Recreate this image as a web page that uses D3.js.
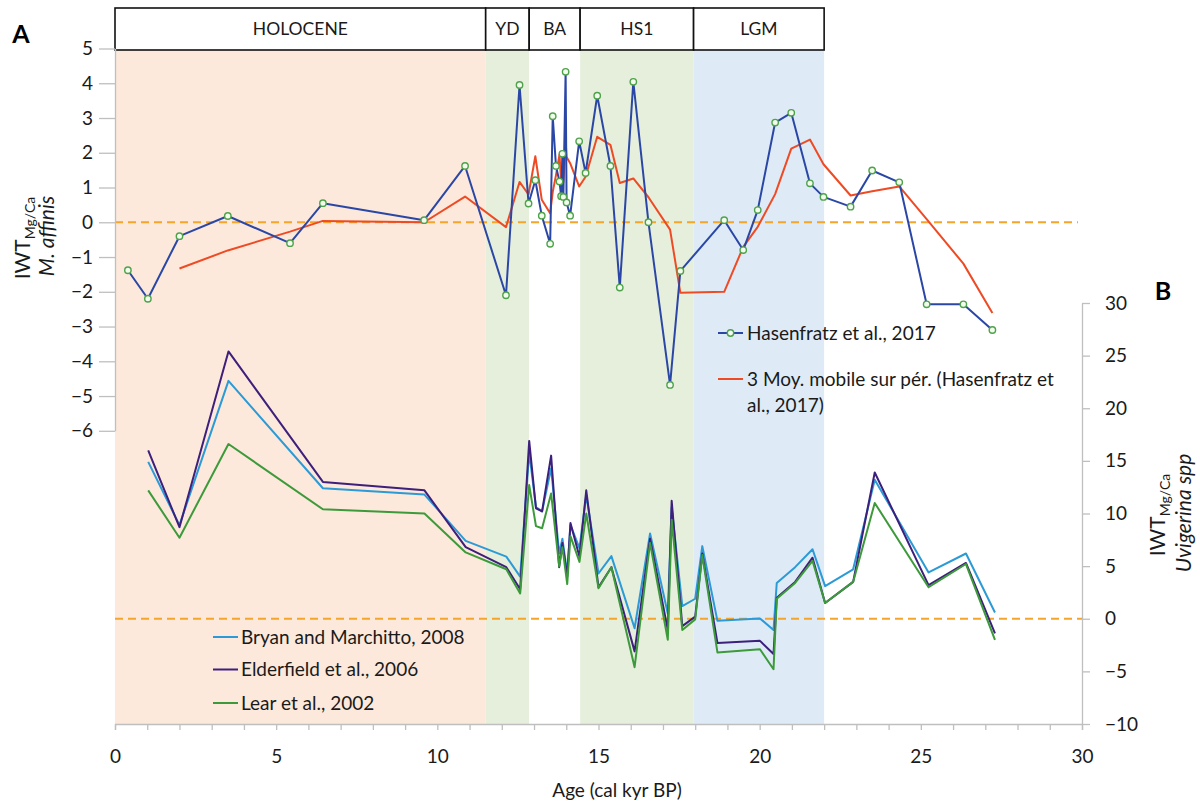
<!DOCTYPE html>
<html>
<head>
<meta charset="utf-8">
<script src="https://cdn.jsdelivr.net/npm/d3@7"></script>
<style>
  html, body { margin: 0; padding: 0; background: #fff; }
  svg { display: block; font-family: Lato, "Open Sans", sans-serif; }
</style>
</head>
<body>
<svg id="chart" width="1200" height="805"></svg>
<script>
// ---------- DATA ----------
const periodNames  = ["HOLOCENE", "YD", "BA", "HS1", "LGM"];
const periodStarts = [0, 11.5, 12.85, 14.43, 17.95];
const periodEnds   = [11.5, 12.85, 14.43, 17.95, 22.0];
const periodFills  = ["#fce9db", "#e6efdc", "#ffffff", "#e6efdc", "#deebf7"];

// Hasenfratz et al., 2017 (left axis)
const hasAges = [0.4, 1.02, 2.0, 3.5, 5.43, 6.45, 9.59, 10.86, 12.13, 12.55, 12.83, 13.04, 13.24, 13.5, 13.58, 13.68, 13.79, 13.84, 13.88, 13.91, 13.98, 14.01, 14.12, 14.4, 14.6, 14.96, 15.37, 15.66, 16.08, 16.55, 17.22, 17.54, 18.9, 19.49, 19.94, 20.48, 20.98, 21.56, 21.98, 22.82, 23.49, 24.33, 25.18, 26.32, 27.22];
const hasValues = [-1.38, -2.2, -0.4, 0.18, -0.6, 0.55, 0.06, 1.62, -2.1, 3.95, 0.54, 1.21, 0.19, -0.62, 3.05, 1.62, 1.17, 0.75, 1.97, 0.73, 4.33, 0.57, 0.19, 2.33, 1.42, 3.64, 1.62, -1.88, 4.04, 0.0, -4.68, -1.4, 0.06, -0.8, 0.35, 2.87, 3.15, 1.12, 0.73, 0.45, 1.49, 1.15, -2.36, -2.36, -3.1];

// 3-point moving average line (left axis)
const maAges = [2.0, 3.5, 5.43, 6.45, 9.59, 10.86, 12.13, 12.55, 12.83, 13.04, 13.24, 13.5, 13.58, 13.68, 13.79, 13.84, 13.88, 13.91, 13.98, 14.01, 14.12, 14.4, 14.6, 14.96, 15.37, 15.66, 16.08, 16.55, 17.22, 17.54, 18.9, 19.49, 19.94, 20.48, 20.98, 21.56, 21.98, 22.82, 23.49, 24.33, 25.18, 26.32, 27.22];
const maValues = [-1.33, -0.81, -0.27, 0.04, 0.0, 0.74, -0.14, 1.16, 0.8, 1.9, 0.65, 0.26, 0.87, 1.35, 1.95, 1.18, 1.3, 1.15, 2.34, 1.88, 1.7, 1.03, 1.31, 2.46, 2.23, 1.13, 1.26, 0.72, -0.21, -2.03, -2.0, -0.71, -0.13, 0.81, 2.12, 2.38, 1.67, 0.77, 0.89, 1.03, 0.09, -1.19, -2.61];

// Uvigerina series (right axis)
const uviAges = [1.03, 2.0, 3.52, 6.45, 9.6, 10.88, 12.14, 12.57, 12.85, 13.06, 13.25, 13.53, 13.78, 13.88, 14.03, 14.13, 14.41, 14.62, 15.0, 15.4, 16.12, 16.6, 17.15, 17.27, 17.6, 18.0, 18.22, 18.69, 20.01, 20.43, 20.53, 21.1, 21.64, 22.03, 22.9, 23.57, 25.24, 26.4, 27.3];
const bryan = [14.9, 8.9, 22.6, 12.4, 11.8, 7.4, 5.9, 4.0, 15.8, 10.6, 10.2, 14.3, 6.2, 7.6, 4.3, 8.9, 6.7, 11.75, 4.3, 5.95, -0.9, 8.1, 0.5, 10.6, 1.2, 1.9, 6.9, -0.2, 0.03, -1.07, 3.4, 4.9, 6.6, 3.1, 4.7, 13.2, 4.4, 6.2, 0.6];
const elderfield = [16.0, 8.7, 25.4, 13.0, 12.2, 6.8, 4.9, 2.8, 16.9, 10.5, 10.2, 15.5, 4.9, 7.2, 4.0, 9.1, 5.9, 12.2, 3.0, 4.9, -3.1, 7.6, -1.07, 11.2, -0.7, 0.2, 6.2, -2.3, -2.1, -3.35, 2.0, 3.5, 5.8, 1.5, 3.5, 13.9, 3.2, 5.3, -1.4];
const lear = [12.2, 7.7, 16.6, 10.4, 10.0, 6.3, 4.7, 2.4, 12.7, 8.8, 8.6, 11.9, 5.0, 6.8, 3.3, 7.85, 5.4, 10.0, 2.9, 4.9, -4.6, 7.2, -2.0, 9.4, -1.07, -0.06, 6.05, -3.2, -2.9, -4.8, 1.9, 3.4, 5.5, 1.5, 3.5, 11.0, 3.0, 5.2, -2.0];

const xTicks = [0, 5, 10, 15, 20, 25, 30];
const leftTicks = [5, 4, 3, 2, 1, 0, -1, -2, -3, -4, -5, -6];
const rightTicks = [30, 25, 20, 15, 10, 5, 0, -5, -10];

const legendTop = ["Hasenfratz et al., 2017", "3 Moy. mobile sur pér. (Hasenfratz et", "al., 2017)"];
const legendBottom = ["Bryan and Marchitto, 2008", "Elderfield et al., 2006", "Lear et al., 2002"];

// ---------- STYLE ----------
const C = {
  axis: "#bfbfbf", text: "#1a1a1a",
  has: "#2b47a6", marker: "#4ea34a", ma: "#ee4b25",
  bryan: "#2b9ad6", elder: "#3d1f7c", lear: "#3d9a3a",
  zero: "#f4a52a"
};
const FONT = 19;

const svg = d3.select("#chart");
const X0 = 115, X1 = 1082, YB = 724, YT = 50;

const x = d3.scaleLinear().domain([0, 30]).range([X0, X1]);
const yL = d3.scaleLinear().domain([5, -6]).range([48.5, 430.8]);
const yR = d3.scaleLinear().domain([-10, 30]).range([YB, 303]);

// ---------- background periods ----------
const periods = periodNames.map((n, i) => ({ n, s: periodStarts[i], e: periodEnds[i], f: periodFills[i] }));
svg.append("g").selectAll("rect").data(periods).join("rect")
  .attr("x", d => x(d.s)).attr("y", YT)
  .attr("width", d => x(d.e) - x(d.s)).attr("height", YB - YT)
  .attr("fill", d => d.f);

// period header boxes
const hdr = svg.append("g");
hdr.selectAll("rect").data(periods).join("rect")
  .attr("x", d => x(d.s)).attr("y", 8)
  .attr("width", d => x(d.e) - x(d.s)).attr("height", YT - 8)
  .attr("fill", "#fff").attr("stroke", "#111").attr("stroke-width", 1.6);
hdr.selectAll("text").data(periods).join("text")
  .attr("x", d => (x(d.s) + x(d.e)) / 2).attr("y", 29)
  .attr("dy", "0.36em").attr("text-anchor", "middle")
  .attr("font-size", 17.5).attr("fill", C.text)
  .text(d => d.n);

// ---------- zero dashed lines ----------
svg.append("line").attr("x1", X0).attr("x2", 1078).attr("y1", yL(0)).attr("y2", yL(0))
  .attr("stroke", C.zero).attr("stroke-width", 2).attr("stroke-dasharray", "8,5");
svg.append("line").attr("x1", X0).attr("x2", X1).attr("y1", yR(0)).attr("y2", yR(0))
  .attr("stroke", C.zero).attr("stroke-width", 2).attr("stroke-dasharray", "8,5");

// ---------- axes ----------
function styleAxis(g) {
  g.selectAll("path.domain").attr("stroke", C.axis).attr("stroke-width", 1.3);
  g.selectAll(".tick line").attr("stroke", C.axis).attr("stroke-width", 1.3);
  g.selectAll(".tick text").attr("fill", C.text).attr("font-size", FONT)
    .attr("font-family", "Lato, 'Open Sans', sans-serif");
}
const gx = svg.append("g").attr("transform", `translate(0,${YB})`)
  .call(d3.axisBottom(x).tickValues(d3.range(0, 31, 1)).tickSize(6).tickPadding(20)
    .tickFormat(d => xTicks.includes(d) ? d : ""));
styleAxis(gx);

const gl = svg.append("g").attr("transform", `translate(${X0},0)`)
  .call(d3.axisLeft(yL).tickValues(leftTicks).tickSize(16).tickPadding(6).tickSizeOuter(0));
styleAxis(gl);

const gr = svg.append("g").attr("transform", `translate(${X1},0)`)
  .call(d3.axisRight(yR).tickValues(rightTicks).tickSize(8).tickPadding(15).tickSizeOuter(0));
styleAxis(gr);

// ---------- lines ----------
function drawLine(ages, vals, yScale, color, width) {
  const pts = ages.map((a, i) => [a, vals[i]]);
  svg.append("path").datum(pts)
    .attr("fill", "none").attr("stroke", color).attr("stroke-width", width)
    .attr("stroke-linejoin", "round")
    .attr("d", d3.line().x(d => x(d[0])).y(d => yScale(d[1])));
}
drawLine(uviAges, bryan, yR, C.bryan, 2);
drawLine(uviAges, elderfield, yR, C.elder, 2);
drawLine(uviAges, lear, yR, C.lear, 2);

drawLine(maAges, maValues, yL, C.ma, 2);
drawLine(hasAges, hasValues, yL, C.has, 2);
svg.append("g").selectAll("circle").data(hasAges.map((a, i) => [a, hasValues[i]])).join("circle")
  .attr("cx", d => x(d[0])).attr("cy", d => yL(d[1])).attr("r", 3.2)
  .attr("fill", "#f3faee").attr("stroke", C.marker).attr("stroke-width", 1.4);

// ---------- legends ----------
const lt = svg.append("g");
lt.append("line").attr("x1", 718).attr("x2", 743).attr("y1", 333).attr("y2", 333)
  .attr("stroke", C.has).attr("stroke-width", 2);
lt.append("circle").attr("cx", 730.5).attr("cy", 333).attr("r", 3.2)
  .attr("fill", "#f3faee").attr("stroke", C.marker).attr("stroke-width", 1.4);
lt.append("text").attr("x", 747).attr("y", 333).attr("dy", "0.35em")
  .attr("font-size", FONT).attr("fill", C.text).text(legendTop[0]);
lt.append("line").attr("x1", 718).attr("x2", 743).attr("y1", 379).attr("y2", 379)
  .attr("stroke", C.ma).attr("stroke-width", 2);
lt.append("text").attr("x", 747).attr("y", 379).attr("dy", "0.35em")
  .attr("font-size", FONT).attr("fill", C.text).text(legendTop[1]);
lt.append("text").attr("x", 747).attr("y", 405).attr("dy", "0.35em")
  .attr("font-size", FONT).attr("fill", C.text).text(legendTop[2]);

const lbColors = [C.bryan, C.elder, C.lear];
const lbY = [637, 669.5, 703];
const lb = svg.append("g");
legendBottom.forEach((t, i) => {
  lb.append("line").attr("x1", 213).attr("x2", 238).attr("y1", lbY[i]).attr("y2", lbY[i])
    .attr("stroke", lbColors[i]).attr("stroke-width", 2);
  lb.append("text").attr("x", 241).attr("y", lbY[i]).attr("dy", "0.35em")
    .attr("font-size", FONT).attr("fill", C.text).text(t);
});

// ---------- titles ----------
svg.append("text").attr("x", 617).attr("y", 790).attr("dy", "0.35em")
  .attr("text-anchor", "middle").attr("font-size", FONT).attr("fill", C.text)
  .text("Age (cal kyr BP)");

function iwt(xp, yp) {
  const t = svg.append("text").attr("transform", `translate(${xp},${yp}) rotate(-90)`)
    .attr("text-anchor", "middle").attr("font-size", 21).attr("fill", C.text);
  t.append("tspan").text("IWT");
  t.append("tspan").attr("font-size", 14).attr("dy", 5).text("Mg/Ca");
}
iwt(30, 238);
svg.append("text").attr("transform", "translate(54,236) rotate(-90)")
  .attr("text-anchor", "middle").attr("font-size", 21).attr("font-style", "italic")
  .attr("fill", C.text).text("M. affinis");

iwt(1165, 515);
svg.append("text").attr("transform", "translate(1191,513) rotate(-90)")
  .attr("text-anchor", "middle").attr("font-size", 21).attr("font-style", "italic")
  .attr("fill", C.text).text("Uvigerina spp");

svg.append("text").attr("x", 21).attr("y", 43).attr("text-anchor", "middle")
  .attr("font-size", 25).attr("font-weight", "bold").attr("fill", "#000").text("A");
svg.append("text").attr("x", 1163).attr("y", 300).attr("text-anchor", "middle")
  .attr("font-size", 25).attr("font-weight", "bold").attr("fill", "#000").text("B");
</script>
</body>
</html>
